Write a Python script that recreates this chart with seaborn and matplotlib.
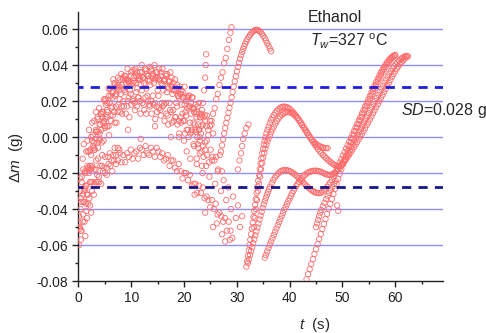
import matplotlib
matplotlib.use('Agg')
import pandas as pd
import matplotlib.pyplot as plt
import seaborn as sns

# --- early noisy runs (t < 30 s) ---
u_t = [0.3, 0.6, 0.9, 1.2, 1.5, 1.8, 2.1, 2.4, 2.7, 3.0, 3.3, 3.6, 3.9, 4.2, 4.5, 4.8, 5.1, 5.4, 5.7, 6.0,
       6.3, 6.6, 6.9, 7.2, 7.5, 7.8, 8.1, 8.4, 8.7, 9.0, 9.3, 9.6, 9.9, 10.2, 10.5, 10.8, 11.1, 11.4, 11.7, 12.0,
       12.3, 12.6, 12.9, 13.2, 13.5, 13.8, 14.1, 14.4, 14.7, 15.0, 15.3, 15.6, 15.9, 16.2, 16.5, 16.8, 17.1, 17.4,
       17.7, 18.0, 18.3, 18.6, 18.9, 19.2, 19.5, 19.8, 20.1, 20.4, 20.7, 21.0, 21.3, 21.6, 21.9, 22.2, 22.5, 22.8,
       23.1, 23.4, 23.7, 24.0, 24.3, 24.6, 24.9, 25.2, 25.5]
u_dm = [-0.023, -0.025, -0.018, -0.020, -0.008, -0.008, -0.008, 0.000, 0.001, 0.009,
        0.004, 0.011, 0.016, 0.013, 0.014, 0.021, 0.021, 0.019, 0.027, 0.027,
        0.025, 0.032, 0.029, 0.028, 0.033, 0.028, 0.035, 0.033, 0.034, 0.032,
        0.038, 0.031, 0.034, 0.037, 0.031, 0.038, 0.036, 0.033, 0.036, 0.040,
        0.033, 0.038, 0.035, 0.032, 0.039, 0.037, 0.034, 0.040, 0.036, 0.033,
        0.038, 0.034, 0.038, 0.031, 0.035, 0.035, 0.031, 0.036, 0.028, 0.030,
        0.032, 0.027, 0.023, 0.028, 0.026, 0.022, 0.028, 0.020, 0.022, 0.023,
        0.019, 0.022, 0.014, 0.018, 0.014, 0.019, 0.011, 0.015, 0.011, 0.009,
        0.012, 0.004, 0.009, 0.007, 0.002]

u2_t = [1.0, 1.35, 1.7, 2.05, 2.4, 2.75, 3.1, 3.45, 3.8, 4.15, 4.5, 4.85, 5.2, 5.55, 5.9, 6.25, 6.6, 6.95,
        7.3, 7.65, 8.0, 8.35, 8.7, 9.05, 9.4, 9.75, 10.1, 10.45, 10.8, 11.15, 11.5, 11.85, 12.2, 12.55, 12.9,
        13.25, 13.6, 13.95, 14.3, 14.65, 15.0, 15.35, 15.7, 16.05, 16.4, 16.75, 17.1, 17.45, 17.8, 18.15, 18.5,
        18.85, 19.2, 19.55, 19.9, 20.25, 20.6, 20.95, 21.3, 21.65, 22.0, 22.35, 22.7, 23.05]
u2_dm = [-0.030, -0.027, -0.016, -0.018, -0.010, -0.005, -0.007, 0.003, 0.003, 0.007,
         0.011, 0.009, 0.018, 0.014, 0.019, 0.016, 0.025, 0.023, 0.027, 0.026,
         0.024, 0.032, 0.026, 0.030, 0.031, 0.026, 0.029, 0.033, 0.030, 0.027,
         0.034, 0.029, 0.033, 0.032, 0.027, 0.034, 0.029, 0.033, 0.030, 0.033,
         0.026, 0.032, 0.030, 0.026, 0.032, 0.025, 0.027, 0.029, 0.024, 0.026,
         0.019, 0.023, 0.024, 0.018, 0.022, 0.014, 0.016, 0.017, 0.013, 0.016,
         0.007, 0.011, 0.007, 0.011]

u3_t = [0.5, 0.85, 1.2, 1.55, 1.9, 2.25, 2.6, 2.95, 3.3, 3.65, 4.0, 4.35, 4.7, 5.05, 5.4, 5.75, 6.1, 6.45,
        6.8, 7.15, 7.5, 7.85, 8.2, 8.55, 8.9, 9.25, 9.6, 9.95, 10.3, 10.65, 11.0, 11.35, 11.7, 12.05, 12.4,
        12.75, 13.1, 13.45, 13.8, 14.15, 14.5, 14.85, 15.2, 15.55, 15.9, 16.25, 16.6, 16.95, 17.3, 17.65, 18.0,
        18.35, 18.7, 19.05, 19.4, 19.75, 20.1, 20.45, 20.8, 21.15, 21.5, 21.85, 22.2, 22.55, 22.9, 23.25, 23.6,
        23.95, 24.3]
u3_dm = [-0.034, -0.032, -0.019, -0.019, -0.017, -0.007, -0.002, -0.003, 0.003, 0.010,
         0.007, 0.013, 0.014, 0.020, 0.015, 0.023, 0.023, 0.022, 0.030, 0.024,
         0.029, 0.032, 0.029, 0.027, 0.034, 0.032, 0.030, 0.036, 0.030, 0.037,
         0.034, 0.032, 0.032, 0.036, 0.030, 0.037, 0.034, 0.031, 0.038, 0.035,
         0.032, 0.036, 0.032, 0.036, 0.029, 0.032, 0.034, 0.028, 0.031, 0.033,
         0.026, 0.026, 0.029, 0.022, 0.024, 0.025, 0.018, 0.022, 0.023, 0.017,
         0.022, 0.016, 0.013, 0.017, 0.013, 0.013, 0.007, 0.012, 0.006]

m_t = [0.2, 0.55, 0.9, 1.25, 1.6, 1.95, 2.3, 2.65, 3.0, 3.35, 3.7, 4.05, 4.4, 4.75, 5.1, 5.45, 5.8, 6.15,
       6.5, 6.85, 7.2, 7.55, 7.9, 8.25, 8.6, 8.95, 9.3, 9.65, 10.0, 10.35, 10.7, 11.05, 11.4, 11.75, 12.1,
       12.45, 12.8, 13.15, 13.5, 13.85, 14.2, 14.55, 14.9, 15.25, 15.6, 15.95, 16.3, 16.65, 17.0, 17.35, 17.7,
       18.05, 18.4, 18.75, 19.1, 19.45, 19.8, 20.15, 20.5, 20.85, 21.2, 21.55, 21.9, 22.25, 22.6, 22.95, 23.3,
       23.65, 24.0, 24.35, 24.7, 25.05, 25.4, 25.75, 26.1, 26.45, 26.8, 27.15]
m_dm = [-0.048, -0.036, -0.036, -0.029, -0.032, -0.020, -0.018, -0.017, -0.007, -0.013,
        -0.006, -0.001, -0.003, -0.002, 0.006, 0.006, 0.001, 0.009, 0.012, 0.008,
        0.008, 0.018, 0.014, 0.013, 0.017, 0.013, 0.020, 0.011, 0.018, 0.020,
        0.015, 0.017, 0.022, 0.013, 0.019, 0.015, 0.013, 0.020, 0.017, 0.013,
        0.018, 0.010, 0.014, 0.016, 0.012, 0.017, 0.009, 0.013, 0.007, 0.015,
        0.008, 0.009, 0.011, 0.007, 0.002, 0.008, 0.009, 0.002, 0.004, 0.000,
        0.002, 0.003, -0.005, 0.003, -0.004, -0.002, -0.008, -0.005, -0.003, -0.010,
        -0.014, -0.007, -0.011, -0.013, -0.011, -0.018, -0.010, -0.019]

m2_t = [1.5, 1.85, 2.2, 2.55, 2.9, 3.25, 3.6, 3.95, 4.3, 4.65, 5.0, 5.35, 5.7, 6.05, 6.4, 6.75, 7.1, 7.45,
        7.8, 8.15, 8.5, 8.85, 9.2, 9.55, 9.9, 10.25, 10.6, 10.95, 11.3, 11.65, 12.0, 12.35, 12.7, 13.05, 13.4,
        13.75, 14.1, 14.45, 14.8, 15.15, 15.5, 15.85, 16.2, 16.55, 16.9, 17.25, 17.6, 17.95, 18.3, 18.65, 19.0,
        19.35, 19.7, 20.05, 20.4, 20.75, 21.1, 21.45, 21.8, 22.15, 22.5, 22.85, 23.2]
m2_dm = [-0.027, -0.017, -0.016, -0.016, -0.006, -0.001, -0.003, -0.002, 0.004, 0.008,
         0.005, 0.011, 0.006, 0.012, 0.017, 0.014, 0.017, 0.014, 0.021, 0.017,
         0.020, 0.025, 0.017, 0.022, 0.024, 0.021, 0.019, 0.025, 0.022, 0.020,
         0.026, 0.018, 0.022, 0.023, 0.018, 0.020, 0.023, 0.019, 0.017, 0.023,
         0.015, 0.019, 0.018, 0.019, 0.012, 0.019, 0.014, 0.015, 0.011, 0.017,
         0.009, 0.011, 0.013, 0.009, 0.012, 0.004, 0.008, 0.004, 0.008, 0.004,
         0.000, 0.004, 0.002]

l_t = [0.1, 0.45, 0.8, 1.15, 1.5, 1.85, 2.2, 2.55, 2.9, 3.25, 3.6, 3.95, 4.3, 4.65, 5.0, 5.35, 5.7, 6.05,
       6.4, 6.75, 7.1, 7.45, 7.8, 8.15, 8.5, 8.85, 9.2, 9.55, 9.9, 10.25, 10.6, 10.95, 11.3, 11.65, 12.0,
       12.35, 12.7, 13.05, 13.4, 13.75, 14.1, 14.45, 14.8, 15.15, 15.5, 15.85, 16.2, 16.55, 16.9, 17.25, 17.6,
       17.95, 18.3, 18.65, 19.0, 19.35, 19.7, 20.05, 20.4, 20.75, 21.1, 21.45, 21.8, 22.15, 22.5, 22.85, 23.2,
       23.55, 23.9, 24.25, 24.6, 24.95, 25.3, 25.65, 26.0, 26.35, 26.7, 27.05, 27.4, 27.75, 28.1, 28.45, 28.8,
       29.15]
l_dm = [-0.060, -0.057, -0.047, -0.047, -0.041, -0.037, -0.038, -0.030, -0.032, -0.025,
        -0.025, -0.025, -0.026, -0.019, -0.020, -0.021, -0.015, -0.016, -0.019, -0.013,
        -0.015, -0.013, -0.009, -0.014, -0.010, -0.014, -0.009, -0.011, -0.007, -0.012,
        -0.009, -0.008, -0.012, -0.006, -0.007, -0.010, -0.005, -0.009, -0.010, -0.006,
        -0.008, -0.011, -0.006, -0.008, -0.011, -0.009, -0.013, -0.012, -0.010, -0.016,
        -0.013, -0.013, -0.017, -0.019, -0.015, -0.019, -0.023, -0.020, -0.020, -0.024,
        -0.021, -0.027, -0.026, -0.026, -0.031, -0.027, -0.031, -0.028, -0.034, -0.033,
        -0.035, -0.039, -0.035, -0.040, -0.037, -0.043, -0.042, -0.044, -0.047, -0.045,
        -0.052, -0.047, -0.052, -0.056]

l2_t = [0.25, 0.55, 0.85, 1.15, 1.45, 1.75, 2.05, 2.35, 2.65, 2.95, 3.25, 3.55, 3.85, 4.15, 4.45, 4.75,
        5.05, 5.35, 5.65, 5.95, 6.25, 6.55, 6.85, 7.15, 7.45, 7.75]
l2_dm = [-0.051, -0.052, -0.043, -0.036, -0.037, -0.032, -0.034, -0.025, -0.025, -0.026,
         -0.018, -0.021, -0.022, -0.016, -0.016, -0.017, -0.011, -0.017, -0.011, -0.009,
         -0.013, -0.010, -0.006, -0.010, -0.006, -0.007]

# loose single points
s_t = [0.1, 0.2, 0.3, 0.4, 0.5, 0.6, 0.8, 1.0, 1.2, 1.3, 1.6, 1.7, 2.0, 2.2, 2.4, 2.6, 3.0, 3.3, 3.7, 4.0,
       4.5, 5.0, 9.4, 14.5, 11.8, 17.5, 19.0, 20.0, 20.5, 21.2, 21.8, 22.0, 22.4, 22.8, 23.0, 23.5, 24.0, 24.2,
       24.8, 25.3, 25.5, 25.9, 26.2, 26.4, 27.0, 27.2, 27.5, 27.8, 28.0, 28.4, 28.7, 28.9, 29.3, 29.8, 30.2,
       30.6, 31.0, 49.0, 49.2]
s_dm = [-0.044, -0.050, -0.030, -0.040, -0.052, -0.022, -0.012, -0.004, -0.028, -0.055,
        -0.045, -0.002, 0.004, -0.025, -0.042, 0.008, -0.018, 0.014, -0.012, 0.002,
        -0.010, 0.010, 0.004, 0.006, -0.001, 0.000, 0.000, -0.002, -0.008, -0.012,
        -0.004, -0.032, -0.015, 0.004, -0.009, -0.020, -0.042, -0.016, -0.022, -0.013,
        -0.050, -0.026, -0.048, -0.019, -0.030, -0.054, -0.024, -0.058, -0.035, -0.028,
        -0.057, -0.040, -0.033, -0.045, -0.038, -0.050, -0.044, -0.038, -0.041]

# steep sparse columns
b_t = [23.4, 23.7, 24.0, 24.3, 24.6, 24.9, 25.2, 25.5, 25.8, 26.1, 26.4, 26.7, 27.0, 27.3, 27.6, 27.9,
       28.2, 28.5, 28.8, 29.0]
b_dm = [-0.016, -0.011, -0.007, -0.002, 0.001, 0.006, 0.009, 0.013, 0.016, 0.021, 0.024, 0.029, 0.033,
        0.036, 0.041, 0.044, 0.049, 0.054, 0.058, 0.061]
b2_t = [22.4, 22.7, 23.0, 23.2, 23.4, 23.6, 23.8, 24.0, 24.1, 24.2]
b2_dm = [-0.012, -0.006, 0.000, 0.006, 0.012, 0.019, 0.026, 0.033, 0.040, 0.046]
b3_t = [30.2, 30.5, 30.8, 31.0, 31.2, 31.5, 31.8, 32.2]
b3_dm = [-0.018, -0.013, -0.009, -0.005, -0.001, 0.002, 0.005, 0.007]

# smooth arc peaking near 0.06
c_t = [27.0, 27.2, 27.4, 27.6, 27.8, 28.0, 28.2, 28.4, 28.6, 28.8, 29.0, 29.2, 29.4, 29.6, 29.8, 30.0,
       30.2, 30.4, 30.6, 30.8, 31.0, 31.2, 31.4, 31.6, 31.8, 32.0, 32.25, 32.5, 32.75, 33.0, 33.25, 33.5,
       33.75, 34.0, 34.25, 34.5, 34.75, 35.0, 35.25, 35.5, 35.75, 36.0, 36.25, 36.5]
c_dm = [-0.0080, -0.0046, -0.0012, 0.0020, 0.0050, 0.0079, 0.0107, 0.0135, 0.0163, 0.0191, 0.0220,
        0.0250, 0.0280, 0.0309, 0.0338, 0.0365, 0.0390, 0.0413, 0.0435, 0.0455, 0.0473, 0.0490, 0.0505,
        0.0519, 0.0532, 0.0543, 0.0556, 0.0567, 0.0577, 0.0585, 0.0591, 0.0595, 0.0596, 0.0594, 0.0590,
        0.0583, 0.0574, 0.0563, 0.0551, 0.0537, 0.0522, 0.0507, 0.0492, 0.0477]

# arc peaking near 0.017
d_t = [31.80, 31.95, 32.10, 32.25, 32.40, 32.55, 32.70, 32.85, 33.00, 33.15, 33.30, 33.45, 33.60, 33.75,
       33.90, 34.05, 34.20, 34.35, 34.50, 34.65, 34.80, 34.95, 35.10, 35.25, 35.40, 35.60, 35.80, 36.00,
       36.25, 36.50, 36.75, 37.00, 37.30, 37.60, 37.90, 38.20, 38.50, 38.80, 39.10, 39.40, 39.70, 40.00,
       40.30, 40.60, 40.90, 41.20, 41.50, 41.80, 42.10, 42.40, 42.70, 43.00, 43.30, 43.60, 43.90, 44.20,
       44.50, 44.80, 45.10, 45.40, 45.70, 46.00, 46.30, 46.60, 46.90, 47.20]
d_dm = [-0.0720, -0.0690, -0.0660, -0.0630, -0.0600, -0.0570, -0.0540, -0.0508, -0.0476, -0.0443,
        -0.0410, -0.0377, -0.0344, -0.0310, -0.0276, -0.0243, -0.0210, -0.0178, -0.0147, -0.0118,
        -0.0090, -0.0065, -0.0042, -0.0021, -0.0002, 0.0020, 0.0040, 0.0058, 0.0077, 0.0094,
        0.0109, 0.0122, 0.0135, 0.0146, 0.0155, 0.0162, 0.0167, 0.0169, 0.0169, 0.0167,
        0.0163, 0.0157, 0.0149, 0.0140, 0.0130, 0.0119, 0.0107, 0.0094, 0.0080, 0.0066,
        0.0051, 0.0036, 0.0022, 0.0009, -0.0003, -0.0014, -0.0024, -0.0033, -0.0040, -0.0046,
        -0.0051, -0.0055, -0.0058, -0.0060, -0.0061, -0.0062]

d2_t = [33.2, 33.4, 33.6, 33.8, 34.0, 34.2, 34.4, 34.6, 34.8, 35.0, 35.2, 35.4, 35.6, 35.8, 36.0, 36.25,
        36.5, 36.75, 37.0, 37.3, 37.6, 37.9, 38.2, 38.5, 38.8, 39.1, 39.4, 39.7, 40.0, 40.3, 40.6, 40.9,
        41.2, 41.5, 41.8, 42.1, 42.4, 42.7, 43.0, 43.3, 43.6, 43.9, 44.2, 44.5, 44.8, 45.1, 45.4, 45.7,
        46.0, 46.3, 46.6, 46.9, 47.2, 47.5, 47.8, 48.1, 48.4, 48.7, 49.0, 49.3, 49.6, 49.9, 50.2, 50.5,
        50.8, 51.1, 51.4, 51.7, 52.0, 52.3, 52.6, 52.9, 53.2, 53.5, 53.8, 54.1, 54.4, 54.7, 55.0, 55.3,
        55.6, 55.9, 56.2, 56.5, 56.8, 57.1, 57.4, 57.7, 58.0, 58.3, 58.6, 58.9, 59.2, 59.5, 59.8, 60.1,
        60.4, 60.7, 61.0, 61.3, 61.6, 61.9, 62.2]
d2_dm = [-0.050, -0.045, -0.040, -0.035, -0.030, -0.026, -0.022, -0.018, -0.0145, -0.0115, -0.0088,
         -0.0064, -0.0043, -0.0024, -0.0008, 0.0010, 0.0027, 0.0043,
         0.0058, 0.0075, 0.0090, 0.0103, 0.0114, 0.0123, 0.0130, 0.0135, 0.0138, 0.0139,
         0.0138, 0.0135, 0.0130, 0.0123, 0.0114, 0.0104, 0.0093, 0.0081, 0.0068, 0.0054,
         0.0040, 0.0026, 0.0012, -0.0002, -0.0016, -0.0030, -0.0043, -0.0056, -0.0068, -0.0079,
         -0.0089, -0.0099, -0.0108, -0.0117, -0.0125, -0.0133, -0.0140, -0.0147, -0.0153, -0.0158,
         -0.0161, -0.0161, -0.0157, -0.0149, -0.0137, -0.0122, -0.0106, -0.0089, -0.0072, -0.0055,
         -0.0038, -0.0021, -0.0004, 0.0013, 0.0030, 0.0047, 0.0064, 0.0081, 0.0098, 0.0115,
         0.0132, 0.0149, 0.0166, 0.0183, 0.0200, 0.0217, 0.0234, 0.0251, 0.0268, 0.0285,
         0.0302, 0.0319, 0.0336, 0.0352, 0.0367, 0.0381, 0.0394, 0.0405, 0.0415, 0.0424,
         0.0432, 0.0439, 0.0445, 0.0449, 0.0451]

# lower arcs near -0.02 and their final rise
e1_t = [32.1, 32.3, 32.5, 32.7, 32.9, 33.1, 33.3, 33.5, 33.7, 33.9, 34.1, 34.3, 34.5, 34.7, 34.9, 35.1,
        35.3, 35.5, 35.7, 35.9, 36.1, 36.3, 36.6, 36.9, 37.2, 37.5, 37.8, 38.1, 38.4, 38.7, 39.0, 39.3,
        39.6, 39.9, 40.2, 40.5, 40.8, 41.1, 41.4, 41.7, 42.0, 42.3, 42.6, 42.9, 43.2, 43.5, 43.8, 44.1,
        44.4, 44.7, 45.0, 45.3, 45.6, 45.9, 46.2, 46.5, 46.8, 47.1, 47.4, 47.7, 48.0, 48.3, 48.6, 48.9,
        49.2, 49.5, 49.8, 50.1, 50.4, 50.7, 51.0, 51.3, 51.6, 51.9, 52.2, 52.5, 52.8, 53.1, 53.4, 53.7,
        54.0, 54.3, 54.6, 54.9, 55.2, 55.5, 55.8, 56.1, 56.4, 56.7, 57.0, 57.3, 57.6, 57.9, 58.2, 58.5,
        58.8, 59.1, 59.4, 59.7, 60.0]
e1_dm = [-0.0700, -0.0678, -0.0656, -0.0634, -0.0612, -0.0590, -0.0568, -0.0546, -0.0524, -0.0502,
         -0.0480, -0.0458, -0.0436, -0.0415, -0.0394, -0.0374, -0.0355, -0.0337, -0.0320, -0.0304,
         -0.0289, -0.0275,
         -0.0256, -0.0239, -0.0225, -0.0213, -0.0203, -0.0195, -0.0189, -0.0185, -0.0183, -0.0183,
         -0.0185, -0.0188, -0.0192, -0.0197, -0.0203, -0.0210, -0.0218, -0.0226, -0.0235, -0.0244,
         -0.0253, -0.0262, -0.0271, -0.0279, -0.0287, -0.0294, -0.0300, -0.0305, -0.0309, -0.0311,
         -0.0311, -0.0309, -0.0304, -0.0297, -0.0288, -0.0277, -0.0265, -0.0252, -0.0238,
         -0.0220, -0.0201, -0.0181, -0.0162, -0.0142, -0.0123, -0.0103, -0.0084, -0.0064, -0.0045,
         -0.0025, -0.0006, 0.0014, 0.0033, 0.0053, 0.0072, 0.0092, 0.0111, 0.0131, 0.0150,
         0.0170, 0.0189, 0.0209, 0.0228, 0.0248, 0.0267, 0.0287, 0.0306, 0.0324, 0.0342,
         0.0359, 0.0375, 0.0390, 0.0404, 0.0417, 0.0428, 0.0438, 0.0446, 0.0452, 0.0456]

e2_t = [35.3, 35.5, 35.75, 36.0, 36.25, 36.5, 36.75, 37.0, 37.25, 37.5, 37.75, 38.0, 38.25, 38.5, 38.75,
        39.0, 39.25, 39.5, 39.75, 40.0, 40.25, 40.5, 40.75, 41.0, 41.25, 41.5, 41.75, 42.0,
        42.3, 42.6, 42.9, 43.2, 43.5, 43.8, 44.1, 44.4, 44.7, 45.0, 45.3, 45.6, 45.9, 46.2, 46.5, 46.8,
        47.1, 47.4, 47.7, 48.0, 48.3, 48.6, 48.9, 49.2, 49.5, 49.8, 50.1, 50.4, 50.7, 51.0, 51.3, 51.6,
        51.9, 52.2, 52.5, 52.8, 53.1, 53.4, 53.7, 54.0, 54.3, 54.6, 54.9, 55.2, 55.5, 55.8, 56.1, 56.4,
        56.7, 57.0, 57.3, 57.6, 57.9, 58.2, 58.5, 58.8, 59.1, 59.4, 59.7, 60.0, 60.3, 60.6, 60.9, 61.2,
        61.5, 61.8, 62.1, 62.4]
e2_dm = [-0.0670, -0.0655, -0.0636, -0.0617, -0.0598, -0.0580, -0.0562, -0.0544, -0.0526, -0.0508,
         -0.0490, -0.0472, -0.0455, -0.0438, -0.0421, -0.0404, -0.0388, -0.0372, -0.0356, -0.0341,
         -0.0326, -0.0312, -0.0298, -0.0285, -0.0272, -0.0260, -0.0249, -0.0239,
         -0.0228, -0.0218, -0.0210, -0.0203, -0.0197, -0.0193, -0.0190, -0.0188, -0.0187, -0.0187,
         -0.0188, -0.0190, -0.0193, -0.0197, -0.0201, -0.0205, -0.0208, -0.0210, -0.0210, -0.0208,
         -0.0204, -0.0198, -0.0190, -0.0181, -0.0171, -0.0160, -0.0148, -0.0136, -0.0123, -0.0110,
         -0.0097, -0.0084, -0.0070, -0.0056, -0.0042, -0.0027, -0.0012, 0.0003, 0.0018, 0.0034,
         0.0050, 0.0066, 0.0082, 0.0098, 0.0115, 0.0132, 0.0149, 0.0166, 0.0183, 0.0200,
         0.0217, 0.0234, 0.0251, 0.0268, 0.0285, 0.0301, 0.0317, 0.0335, 0.0351, 0.0366,
         0.0380, 0.0393, 0.0405, 0.0416, 0.0426, 0.0435, 0.0443, 0.0449]

# run coming up from the bottom edge
f_t = [43.2, 43.5, 43.8, 44.1, 44.4, 44.7, 45.0, 45.3, 45.6, 45.9, 46.2, 46.5, 46.8, 47.1, 47.4, 47.7,
       48.0, 48.3, 48.6, 48.9, 49.2, 49.5, 49.8, 50.1, 50.4, 50.7, 51.0, 51.3, 51.6, 51.9, 52.2, 52.5,
       52.8, 53.1, 53.4, 53.7, 54.0, 54.3, 54.6, 54.9, 55.2, 55.5, 55.8, 56.1, 56.4, 56.7, 57.0, 57.3,
       57.6, 57.9, 58.2, 58.5, 58.8, 59.1, 59.4, 59.7, 60.0]
f_dm = [-0.0790, -0.0762, -0.0734, -0.0706, -0.0678, -0.0650, -0.0623, -0.0595, -0.0567, -0.0539,
        -0.0511, -0.0483, -0.0455, -0.0427, -0.0399, -0.0371, -0.0344, -0.0316, -0.0288, -0.0260,
        -0.0232, -0.0204,
        -0.0178, -0.0152, -0.0127, -0.0102, -0.0077, -0.0053, -0.0030, -0.0008, 0.0013, 0.0033,
        0.0053, 0.0073, 0.0093, 0.0113, 0.0133, 0.0153, 0.0173, 0.0193, 0.0213, 0.0233,
        0.0252, 0.0271, 0.0290, 0.0308, 0.0326, 0.0343, 0.0360, 0.0376, 0.0391, 0.0405,
        0.0418, 0.0430, 0.0440, 0.0448, 0.0454]
f2_t = [45.0, 45.2, 45.4, 45.6, 45.8, 46.0, 46.3, 46.6, 46.9, 47.2, 47.5, 47.8, 48.1, 48.4, 48.7]
f2_dm = [-0.050, -0.048, -0.046, -0.044, -0.042, -0.0405, -0.0385, -0.0365, -0.0345, -0.0327,
         -0.0310, -0.0293, -0.0277, -0.0260, -0.0243]

grid_levels = [-0.06, -0.04, -0.02, 0.00, 0.02, 0.04, 0.06]
sd = 0.028

runs = [(u_t, u_dm), (u2_t, u2_dm), (u3_t, u3_dm), (m_t, m_dm), (m2_t, m2_dm), (l_t, l_dm),
        (l2_t, l2_dm), (s_t, s_dm), (b_t, b_dm), (b2_t, b2_dm), (b3_t, b3_dm), (c_t, c_dm),
        (d_t, d_dm), (d2_t, d2_dm), (e1_t, e1_dm), (e2_t, e2_dm), (f_t, f_dm), (f2_t, f2_dm)]
df = pd.concat([pd.DataFrame({'t': t, 'dm': dm}) for t, dm in runs], ignore_index=True)

sns.set_style('ticks')
plt.rcParams['font.family'] = ['Liberation Sans', 'DejaVu Sans']
plt.rcParams['mathtext.fontset'] = 'custom'
plt.rcParams['mathtext.rm'] = 'Liberation Sans'
plt.rcParams['mathtext.it'] = 'Liberation Sans:italic'
plt.rcParams['axes.unicode_minus'] = False

fig = plt.figure(figsize=(4.86, 3.33), dpi=100)
ax = fig.add_axes([0.1615, 0.156, 0.7494, 0.808])

for y in grid_levels:
    ax.axhline(y, color='#8f8ff5', lw=1.0, zorder=1)

sns.scatterplot(data=df, x='t', y='dm', ax=ax, marker='o', s=15,
                facecolor='none', edgecolor='#ff6b6b', linewidth=0.6, zorder=3, legend=False)

ax.axhline(sd, color='#1e1edc', lw=2, ls=(1.5, (3.3, 2.6)), zorder=4)
ax.axhline(-sd, color='#16168f', lw=2, ls=(1.5, (3.3, 2.6)), zorder=4)

ax.set_xlim(0, 69)
ax.set_ylim(-0.08, 0.0695)
ax.set_xticks([0, 10, 20, 30, 40, 50, 60])
ax.set_xticks([5, 15, 25, 35, 45, 55, 65], minor=True)
ax.set_yticks([-0.08, -0.06, -0.04, -0.02, 0.00, 0.02, 0.04, 0.06])
ax.set_yticks([-0.07, -0.05, -0.03, -0.01, 0.01, 0.03, 0.05], minor=True)
ax.yaxis.set_major_formatter(plt.FormatStrFormatter('%.2f'))
ax.tick_params(which='major', direction='out', length=4.5, width=1, labelsize=10, pad=3, colors='#222222')
ax.tick_params(which='minor', direction='out', length=2.5, width=1, colors='#222222')
for side in ['left', 'bottom']:
    ax.spines[side].set_linewidth(1)
    ax.spines[side].set_color('#222222')
sns.despine(ax=ax)
ax.set_xlabel('')
ax.set_ylabel('')

fig.text(16 / 486, 1 - 157 / 333, r'$\Delta m$  (g)', rotation=90, ha='center', va='center', fontsize=11)
fig.text(315 / 486, 1 - 325 / 333, r'$t$  (s)', ha='center', va='center', fontsize=11)
fig.text(335 / 486, 1 - 18 / 333, 'Ethanol', ha='center', va='center', fontsize=11.5)
fig.text(310 / 486, 1 - 41 / 333, r'$T_w$=327 $^{\rm o}$C', ha='left', va='center', fontsize=11.5)
fig.text(401 / 486, 1 - 111 / 333, r'$SD$=0.028 g', ha='left', va='center', fontsize=11.5)

fig.savefig('out.png', dpi=100)
